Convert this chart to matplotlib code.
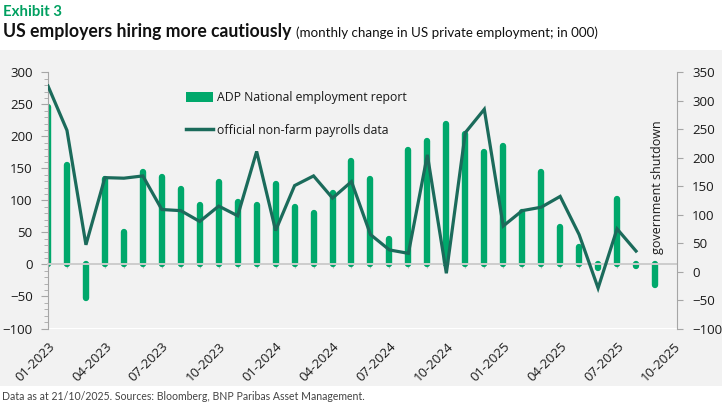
import matplotlib
matplotlib.use("Agg")
import matplotlib.pyplot as plt
from matplotlib.patches import Rectangle, Patch
from matplotlib.lines import Line2D
from matplotlib.ticker import MultipleLocator

# ---- data ----
tick_labels = ["01-2023", "04-2023", "07-2023", "10-2023", "01-2024", "04-2024",
               "07-2024", "10-2024", "01-2025", "04-2025", "07-2025", "10-2025"]
adp = [246, 155, -52, 133, 50, 144, 136, 118, 93, 128, 98, 93, 126, 89, 80, 111,
       161, 134, 40, 178, 192, 219, 203, 175, 185, 82, 145, 58, 27, -5, 102, -3, -32]
nfp = [326, 248, 47, 165, 164, 168, 109, 107, 88, 115, 98, 211, 72, 151, 168, 129,
       158, 65, 38, 32, 205, -3, 244, 285, 80, 107, 113, 132, 65, -29, 75, 36]
series_names = ["ADP National employment report", "official non-farm payrolls data"]
note = "government shutdown"

GREEN = "#00a86b"
TEAL = "#1b6b5b"
GRAY = "#a6a6a6"
TXT = "#1a1a1a"
BODY = ["Open Sans", "DejaVu Sans"]
HEAD = ["Lato", "DejaVu Sans"]

fig = plt.figure(figsize=(7.25, 4.05), dpi=100)
fig.patches.append(Rectangle((0, 0.047), 0.996, 0.83, transform=fig.transFigure,
                             facecolor="#f2f2f2", edgecolor="none", zorder=-10))

ax = fig.add_axes([48 / 725, 1 - 328.5 / 405, 629 / 725, 256.2 / 405])
ax.patch.set_visible(False)
ax2 = ax.twinx()
ax2.patch.set_visible(False)

xb = list(range(len(adp)))
xl = list(range(len(nfp)))
ax.vlines(xb, 0, adp, colors=GREEN, linewidth=4.6, capstyle="round", zorder=2)
ax2.plot(xl, nfp, color=TEAL, linewidth=2.3, solid_joinstyle="miter", zorder=3)

ax.set_xlim(0, 33.16)
ax.set_ylim(-100, 300)
ax2.set_ylim(-100, 350)

for s in ["top", "right"]:
    ax.spines[s].set_visible(False)
ax.spines["left"].set_color(GRAY)
ax.spines["bottom"].set_position(("data", 0))
ax.spines["bottom"].set_color("#cccccc")
ax.spines["bottom"].set_linewidth(1.4)
for s in ["top", "left", "bottom"]:
    ax2.spines[s].set_visible(False)
ax2.spines["right"].set_color(GRAY)

ax.yaxis.set_major_locator(MultipleLocator(50))
ax.yaxis.set_minor_locator(MultipleLocator(10))
ax.tick_params(axis="y", which="major", length=5, color=GRAY, labelsize=9.5,
               labelcolor=TXT, pad=6)
ax.tick_params(axis="y", which="minor", length=3, color=GRAY)
for t in ax.get_yticklabels():
    t.set_fontfamily(BODY)

ax2.yaxis.set_major_locator(MultipleLocator(50))
ax2.tick_params(axis="y", length=4, color=GRAY, labelsize=9.5, labelcolor=TXT, pad=7)
for t in ax2.get_yticklabels():
    t.set_fontfamily(BODY)

ax.set_xticks(xb)
ax.tick_params(axis="x", length=3, color="#bbbbbb", labelbottom=False)

sec = ax.secondary_xaxis("bottom")
sec.set_xticks(list(range(0, 34, 3)), labels=tick_labels)
sec.spines["bottom"].set_visible(False)
sec.tick_params(length=0, pad=8, labelsize=9.5, labelcolor=TXT)
for t in sec.get_xticklabels():
    t.set_rotation(45)
    t.set_ha("right")
    t.set_rotation_mode("anchor")
    t.set_fontfamily(BODY)

handles = [Patch(facecolor=GREEN, edgecolor="none"),
           Line2D([], [], color=TEAL, linewidth=2.5)]
fig.legend(handles, series_names, loc="upper left",
           bbox_to_anchor=(186 / 725, 1 - 91 / 405), frameon=False,
           prop={"family": BODY, "size": 8.8}, handlelength=2.2, handleheight=0.95,
           labelspacing=1.6, handletextpad=0.35, borderpad=0, borderaxespad=0,
           labelcolor=TXT)

fig.text(657 / 725, 1 - 187 / 405, note, rotation=90, ha="center", va="center",
         fontsize=9, family=BODY, color=TXT)

fig.text(3 / 725, 1 - 16 / 405, "Exhibit 3", fontsize=10.8, fontweight="bold",
         family=HEAD, color="#00a060", va="baseline")
title = fig.text(3 / 725, 1 - 37 / 405, "US employers hiring more cautiously",
                 fontsize=12.7, fontweight="bold", family=HEAD, color="#111111",
                 va="baseline")
fig.canvas.draw()
bb = title.get_window_extent()
fig.text((bb.x1 + 5) / 725, 1 - 37 / 405,
         "(monthly change in US private employment; in 000)", fontsize=9.6,
         family=HEAD, color="#111111", va="baseline")
fig.text(2 / 725, 1 - 400 / 405,
         "Data as at 21/10/2025. Sources: Bloomberg, BNP Paribas Asset Management.",
         fontsize=7.6, family=HEAD, color="#444444", va="baseline")

fig.savefig("out.png", dpi=100, facecolor="white")
